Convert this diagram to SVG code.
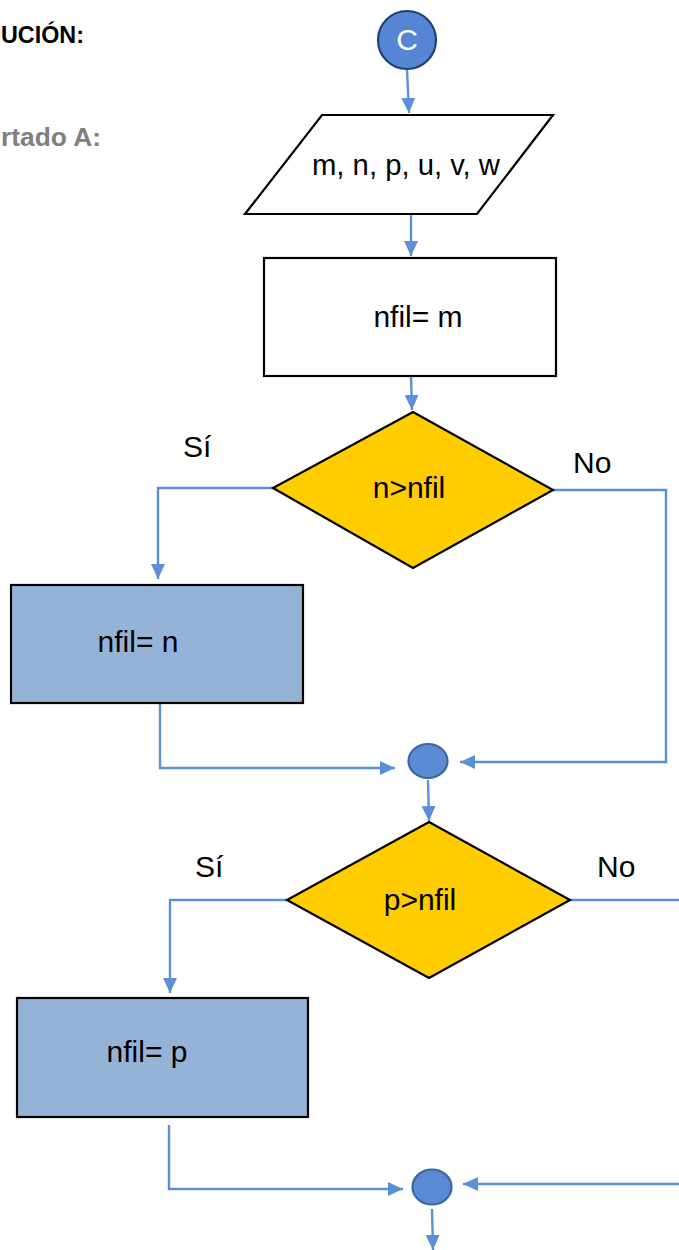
<svg xmlns="http://www.w3.org/2000/svg" width="679" height="1250" viewBox="0 0 679 1250">
  <style>
    .shape { stroke: #000; stroke-width: 2.2; }
    .proc { fill: #fff; }
    .assign { fill: #95b3d7; }
    .cond { fill: #ffcc00; stroke-linejoin: miter; }
    .label { font-family: "Liberation Sans", Arial, sans-serif; font-size: 30px; fill: #000; }
    .head { font-family: "Liberation Sans", Arial, sans-serif; font-weight: bold; }
    .wire { fill: none; stroke: #5b8fd8; stroke-width: 2.4; }
    .arrow { marker-end: url(#tip); }
    .joint { fill: #5b8bd5; stroke: #3e6696; stroke-width: 2.2; }
  </style>
  <defs>
    <marker id="tip" markerUnits="userSpaceOnUse" markerWidth="16" markerHeight="16" viewBox="0 0 16 16" refX="15" refY="8" orient="auto">
      <path d="M0,1 L15,8 L0,15 Z" fill="#5b8fd8"/>
    </marker>
  </defs>
  <rect width="679" height="1250" fill="#fff"/>

  <!-- headings -->
  <text class="head" x="1" y="43" fill="#000" font-size="24.5" textLength="83" lengthAdjust="spacingAndGlyphs">UCIÓN:</text>
  <text class="head" x="1" y="146" fill="#808080" font-size="26.5" textLength="100" lengthAdjust="spacingAndGlyphs">rtado A:</text>

  <!-- connectors -->
  <g id="connectors">
    <path class="wire arrow" d="M407,70 L409,113"/>
    <path class="wire arrow" d="M411,214 L411,256"/>
    <path class="wire arrow" d="M411,376 L412,410"/>
    <path class="wire arrow" d="M273,488 L158,488 L158,579"/>
    <path class="wire arrow" d="M553,490 L666,490 L666,762 L460,762"/>
    <path class="wire arrow" d="M160,703 L160,768 L395,768"/>
    <path class="wire arrow" d="M428,780 L429,821"/>
    <path class="wire arrow" d="M287,900 L170,900 L170,993"/>
    <path class="wire" d="M570,900 L679,900"/>
    <path class="wire arrow" d="M169,1125 L169,1189 L403,1189"/>
    <path class="wire arrow" d="M679,1184 L463,1184"/>
    <path class="wire arrow" d="M432,1209 L433,1250"/>
  </g>

  <!-- start connector C -->
  <g id="start">
    <circle cx="407" cy="40" r="29" fill="#5585d4" stroke="#22406f" stroke-width="2.2"/>
    <text class="label" x="407" y="50" text-anchor="middle" font-size="28" style="fill:#fff">C</text>
  </g>

  <!-- input parallelogram -->
  <g id="input">
    <polygon class="shape proc" points="322,115 553,115 477,214 245,214"/>
    <text class="label" x="406" y="175" text-anchor="middle" textLength="188" lengthAdjust="spacingAndGlyphs">m, n, p, u, v, w</text>
  </g>

  <!-- nfil = m -->
  <g id="init">
    <rect class="shape proc" x="264" y="258" width="292" height="118"/>
    <text class="label" x="418" y="327" text-anchor="middle">nfil= m</text>
  </g>

  <!-- first decision -->
  <g id="dec1">
    <polygon class="shape cond" points="413,412 553,490 413,568 273,488"/>
    <text class="label" x="409" y="498" text-anchor="middle">n&gt;nfil</text>
    <text class="label" x="183" y="457">Sí</text>
    <text class="label" x="573" y="473">No</text>
  </g>

  <!-- nfil = n -->
  <g id="setN">
    <rect class="shape assign" x="11" y="585" width="292" height="118"/>
    <text class="label" x="138" y="652" text-anchor="middle">nfil= n</text>
  </g>

  <!-- first merge point -->
  <g id="merge1">
    <ellipse class="joint" cx="428" cy="761" rx="19.5" ry="17"/>
  </g>

  <!-- second decision -->
  <g id="dec2">
    <polygon class="shape cond" points="429,822 570,900 429,978 287,900"/>
    <text class="label" x="420" y="910" text-anchor="middle">p&gt;nfil</text>
    <text class="label" x="195" y="877">Sí</text>
    <text class="label" x="597" y="877">No</text>
  </g>

  <!-- nfil = p -->
  <g id="setP">
    <rect class="shape assign" x="17" y="998" width="291" height="119"/>
    <text class="label" x="147" y="1062" text-anchor="middle">nfil= p</text>
  </g>

  <!-- second merge point -->
  <g id="merge2">
    <ellipse class="joint" cx="432" cy="1187" rx="19.5" ry="17.5"/>
  </g>
</svg>
